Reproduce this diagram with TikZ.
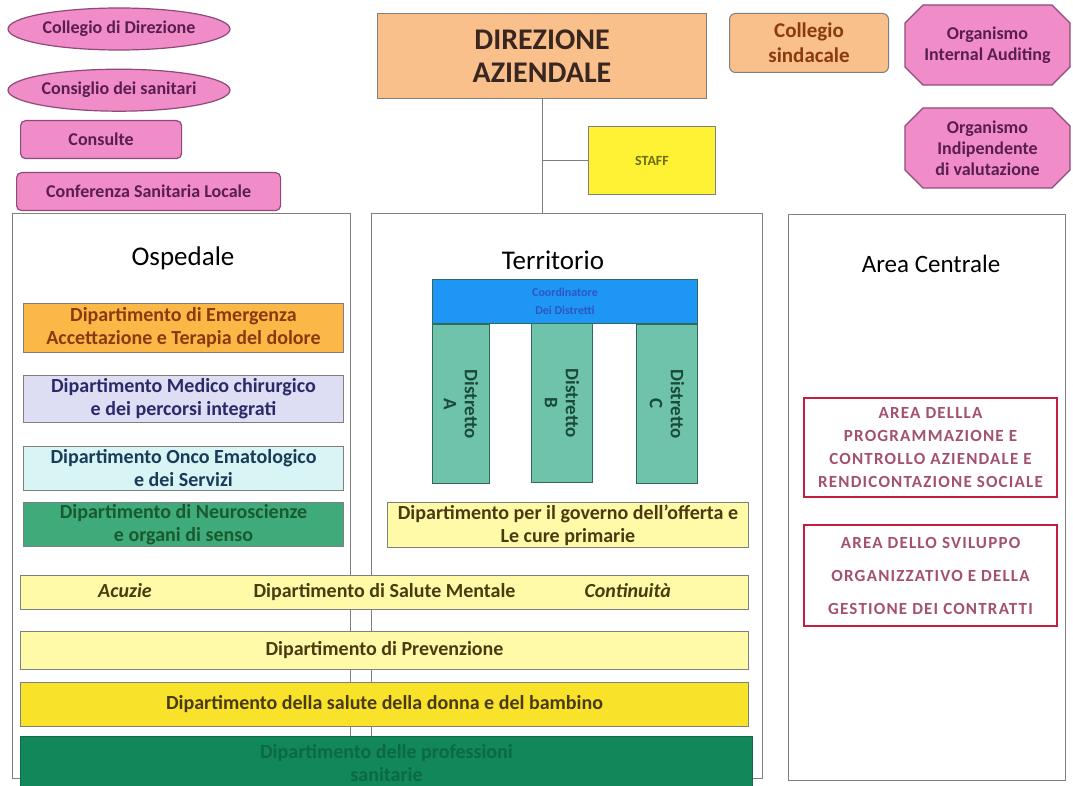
\documentclass[tikz,border=0pt]{standalone}
\usepackage{fontspec}
\setmainfont{Carlito}
\usepackage{tikz}
\usetikzlibrary{shapes.geometric, shapes.misc}
\usetikzlibrary{positioning}

\definecolor{pinkfill}{HTML}{F08CC8}
\definecolor{pinkline}{HTML}{8E4A78}
\definecolor{pinktext}{HTML}{5A1E4C}
\definecolor{orangefill}{HTML}{FAC08C}
\definecolor{orangetext}{HTML}{3A2620}
\definecolor{staffill}{HTML}{FFF235}
\definecolor{staftext}{HTML}{6E6A10}
\definecolor{emergfill}{HTML}{FCB846}
\definecolor{emergtext}{HTML}{8A3A10}
\definecolor{medicofill}{HTML}{DDDDF3}
\definecolor{medicotext}{HTML}{2A2A6A}
\definecolor{oncofill}{HTML}{D9F4F4}
\definecolor{oncotext}{HTML}{1A3A5A}
\definecolor{neurofill}{HTML}{3FAA7A}
\definecolor{neurotext}{HTML}{1A5A30}
\definecolor{coordfill}{HTML}{1E96F5}
\definecolor{coordtext}{HTML}{2D58C0}
\definecolor{distfill}{HTML}{6EC3AA}
\definecolor{distline}{HTML}{2F6A5A}
\definecolor{disttext}{HTML}{1A4A3A}
\definecolor{lightyel}{HTML}{FFFAA8}
\definecolor{yeltext}{HTML}{4A3A10}
\definecolor{donnafill}{HTML}{F8E32A}
\definecolor{profill}{HTML}{12875A}
\definecolor{protext}{HTML}{0C6A40}
\definecolor{arealine}{HTML}{C0203C}
\definecolor{areatext}{HTML}{A45070}
\definecolor{panelline}{HTML}{7F7F7F}

\begin{document}
\begin{tikzpicture}[x=1pt, y=-1pt, node distance=22pt, every node/.style={inner sep=0pt, align=center}]
\tikzstyle{panel} = [rectangle, draw=panelline, line width=0.8pt, anchor=north west]
\tikzstyle{title} = [font=\fontsize{27}{32}\selectfont]
\tikzstyle{pinkoval} = [ellipse, draw=pinkline, line width=1.2pt, fill=pinkfill, text=pinktext, minimum width=222pt, minimum height=42pt, font=\fontsize{18}{21}\selectfont\bfseries]
\tikzstyle{pinkbox} = [rectangle, rounded corners=5pt, draw=pinkline, line width=1.2pt, fill=pinkfill, text=pinktext, minimum height=38pt, font=\fontsize{18}{21}\selectfont\bfseries]
\tikzstyle{auditing} = [chamfered rectangle, chamfered rectangle xsep=9pt, chamfered rectangle ysep=9pt, draw=pinkline, line width=1.2pt, fill=pinkfill, text=pinktext, minimum width=165pt, minimum height=80pt, font=\fontsize{18}{21}\selectfont\bfseries]
\tikzstyle{orangebox} = [rectangle, draw=panelline, line width=1pt, fill=orangefill, text=orangetext]
\tikzstyle{dept} = [rectangle, draw=panelline, line width=1pt, minimum width=320pt, font=\fontsize{20}{23}\selectfont\bfseries]
\tikzstyle{bar} = [dept, fill=lightyel, text=yeltext, minimum width=728pt]
\tikzstyle{district} = [rectangle, draw=distline, line width=1pt, fill=distfill, text=disttext, rotate=-90, minimum width=159pt, font=\fontsize{19}{21}\selectfont\bfseries]
\tikzstyle{areabox} = [rectangle, draw=arealine, line width=2pt, fill=white, text=areatext, minimum width=253pt, font=\fontsize{17}{23}\selectfont\bfseries\addfontfeature{LetterSpace=7}]
\tikzstyle{line} = [draw=panelline, line width=0.9pt]

\useasboundingbox (0,0) rectangle (1073,786);

% Panels
\node (osp) [panel, minimum width=338pt, minimum height=565pt] at (12,213) {};
\node (terr) [panel, minimum width=391pt, minimum height=565pt] at (371,213) {};
\node (centr) [panel, minimum width=277pt, minimum height=566pt] at (788,214) {};

% Top
\node (coldir) [pinkoval] at (119,29) {Collegio di Direzione};
\node (consan) [pinkoval, below=18pt of coldir] {Consiglio dei sanitari};
\node (consulte) [pinkbox, minimum width=161pt, anchor=north west] at (20,120) {Consulte};
\node (conf) [pinkbox, minimum width=264pt, anchor=north west] at (16,172) {Conferenza Sanitaria Locale};
\node (dir) [orangebox, minimum width=329pt, minimum height=85pt, anchor=north west, font=\fontsize{30}{33}\selectfont\bfseries] at (377,13) {DIREZIONE\\AZIENDALE};
\node (staff) [rectangle, draw=panelline, line width=1pt, fill=staffill, text=staftext, minimum width=127pt, minimum height=68pt, anchor=north west, font=\fontsize{14}{16}\selectfont\bfseries] at (588,126) {STAFF};
\node (colsin) [orangebox, rounded corners=6pt, minimum width=159pt, minimum height=59pt, right=22pt of dir.north east, anchor=north west, text=emergtext, font=\fontsize{21}{25}\selectfont\bfseries] {Collegio\\sindacale};
\node (orgia) [auditing] at (987.5,45) {Organismo\\Internal Auditing};
\node (orgiv) [auditing] at (987.5,148) {Organismo\\Indipendente\\di valutazione};

% Lines
\coordinate (join) at (dir.south |- terr.north);
\draw [line] (dir.south) -- (join);
\draw [line] (dir.south |- staff.west) -- (staff.west);

% Ospedale
\node (ospT) [title] at (183,258) {Ospedale};
\node (emerg) [dept, fill=emergfill, text=emergtext, minimum height=49pt, anchor=north west] at (23,303) {Dipartimento di Emergenza\\Accettazione e Terapia del dolore};
\node (medico) [dept, fill=medicofill, text=medicotext, minimum height=47pt, below=22pt of emerg] {Dipartimento Medico chirurgico\\e dei percorsi integrati};
\node (onco) [dept, fill=oncofill, text=oncotext, minimum height=44pt, below=23pt of medico] {Dipartimento Onco Ematologico\\e dei Servizi};
\node (neuro) [dept, fill=neurofill, text=neurotext, minimum height=44pt, below=11pt of onco] {Dipartimento di Neuroscienze\\e organi di senso};

% Territorio
\node (terrT) [title] at (553,260) {Territorio};
\node (coordist) [rectangle, draw=distline, line width=1pt, fill=coordfill, text=coordtext, minimum width=265pt, minimum height=44pt, anchor=north west, font=\fontsize{12}{18}\selectfont\bfseries] at (432,279) {Coordinatore\\Dei Distretti};
\node (distA) [district, minimum height=57pt, anchor=south west] at (coordist.south west) {Distretto\\A};
\node (distB) [district, minimum height=61pt, anchor=south west] at (531,323) {Distretto\\B};
\node (distC) [district, minimum height=61pt, anchor=north west] at (coordist.south east) {Distretto\\C};
\node (governo) [dept, fill=lightyel, text=yeltext, minimum width=361pt, minimum height=45pt, anchor=north west] at (387,502) {Dipartimento per il governo dell'offerta e\\Le cure primarie};

% Area Centrale
\node (centrT) [title, font=\fontsize{25}{30}\selectfont] at (931,264) {Area Centrale};
\node (areaprog) [areabox, minimum height=99pt, anchor=north west] at (803,397) {AREA DELLLA\\PROGRAMMAZIONE E\\CONTROLLO AZIENDALE E\\RENDICONTAZIONE SOCIALE};
\node (areasvil) [areabox, minimum height=101pt, below=26pt of areaprog, font=\fontsize{17}{33}\selectfont\bfseries\addfontfeature{LetterSpace=7}] {AREA DELLO SVILUPPO\\ORGANIZZATIVO E DELLA\\GESTIONE DEI CONTRATTI};

% Bottom bars
\node (mentale) [bar, minimum height=34pt, anchor=north west] at (20,575) {Dipartimento di Salute Mentale};
\node (acuzie) [right=78pt of mentale.base west, anchor=base west, text=yeltext, font=\fontsize{20}{23}\selectfont\bfseries\itshape] {Acuzie};
\node (contin) [left=78pt of mentale.base east, anchor=base east, text=yeltext, font=\fontsize{20}{23}\selectfont\bfseries\itshape] {Continuità};
\node (prev) [bar, minimum height=38pt, below=21pt of mentale] {Dipartimento di Prevenzione};
\node (donna) [bar, fill=donnafill, minimum height=44pt, below=12pt of prev] {Dipartimento della salute della donna e del bambino};
\node (profess) [bar, fill=profill, draw=profill!80!black, text=protext, minimum width=732pt, minimum height=53pt, anchor=north west] at (20,736) {Dipartimento delle professioni\\sanitarie};

\end{tikzpicture}
\end{document}
